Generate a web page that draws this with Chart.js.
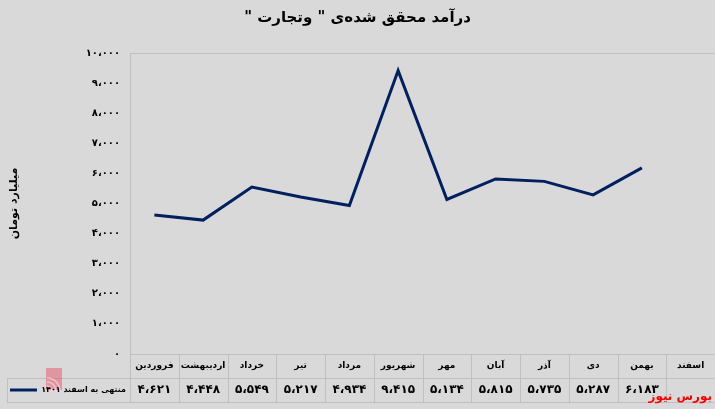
<!DOCTYPE html>
<html>
<head>
<meta charset="utf-8">
<script src="https://cdn.jsdelivr.net/npm/chart.js@4"></script>
<style>
  html, body { margin: 0; padding: 0; background: #d9d9d9; }
  .chart { width: 715px; height: 409px; }
</style>
</head>
<body>
<div class="chart"><canvas dir="rtl"></canvas></div>
<script>
const months = ["فروردین", "اردیبهشت", "خرداد", "تیر", "مرداد", "شهریور", "مهر", "آبان", "آذر", "دی", "بهمن", "اسفند"];
const revenue = [4621, 4448, 5549, 5217, 4934, 9415, 5134, 5815, 5735, 5287, 6183, null];
const seriesName = "منتهی به اسفند ۱۴۰۱";
const chartTitle = "درآمد محقق شده‌ی \" وتجارت \"";
const yTitle = "میلیارد تومان";
const watermark = "بورس نیوز";

const FONT = "'DejaVu Sans', sans-serif";
const lineColor = "#002060";
const gridColor = "#bfbfbf";

// persian digits with arabic comma, like the excel sheet
function fa(n) {
  const s = n >= 1000 ? Math.floor(n / 1000) + "،" + String(n % 1000).padStart(3, "0") : String(n);
  return s.replace(/[0-9]/g, (d) => "۰۱۲۳۴۵۶۷۸۹"[d]);
}

const tablePlugin = {
  id: "dataTable",
  afterDraw(chart) {
    const ctx = chart.ctx;
    const area = chart.chartArea;
    const x = chart.scales.x;
    const rowH = 24;
    const top = area.bottom;
    const mid = top + rowH;
    const bottom = mid + rowH;
    const tableLeft = 7;
    const step = (area.right - area.left) / months.length;

    ctx.save();
    ctx.strokeStyle = gridColor;
    ctx.lineWidth = 1;
    ctx.beginPath();
    // plot frame
    ctx.moveTo(area.left + 0.5, area.top + 0.5);
    ctx.lineTo(area.right, area.top + 0.5);
    ctx.moveTo(area.left + 0.5, area.top);
    ctx.lineTo(area.left + 0.5, bottom);
    // table rows
    ctx.moveTo(area.left, top + 0.5);
    ctx.lineTo(area.right, top + 0.5);
    ctx.moveTo(tableLeft, mid + 0.5);
    ctx.lineTo(area.right, mid + 0.5);
    ctx.moveTo(tableLeft, bottom + 0.5);
    ctx.lineTo(area.right, bottom + 0.5);
    ctx.moveTo(tableLeft + 0.5, mid);
    ctx.lineTo(tableLeft + 0.5, bottom);
    for (let i = 1; i <= months.length; i++) {
      const bx = Math.round(area.left + step * i) + 0.5;
      ctx.moveTo(bx, top);
      ctx.lineTo(bx, bottom);
    }
    ctx.stroke();

    ctx.fillStyle = "#000";
    ctx.textAlign = "center";
    ctx.textBaseline = "middle";
    months.forEach((m, i) => {
      const cx = x.getPixelForValue(i);
      ctx.font = "bold 9px " + FONT;
      ctx.fillText(m, cx, top + rowH / 2);
      ctx.font = "bold 12px " + FONT;
      if (revenue[i] != null) ctx.fillText(fa(revenue[i]), cx, mid + rowH / 2);
    });

    // watermark logo, faint
    ctx.globalAlpha = 0.45;
    ctx.fillStyle = "#e8425a";
    ctx.fillRect(46, 368, 16, 22);
    ctx.strokeStyle = "#ffffff";
    ctx.lineWidth = 1.5;
    for (let r = 5; r <= 13; r += 4) {
      ctx.beginPath();
      ctx.arc(47, 391, r, -Math.PI / 2, 0);
      ctx.stroke();
    }
    ctx.globalAlpha = 1;

    // legend key
    ctx.fillStyle = "#000";
    ctx.font = "bold 8px " + FONT;
    ctx.textAlign = "right";
    ctx.fillText(seriesName, area.left - 4, mid + rowH / 2);
    ctx.strokeStyle = lineColor;
    ctx.lineWidth = 3;
    ctx.beginPath();
    ctx.moveTo(10, mid + rowH / 2);
    ctx.lineTo(37, mid + rowH / 2);
    ctx.stroke();

    ctx.fillStyle = "#ff0000";
    ctx.font = "bold 12px " + FONT;
    ctx.textAlign = "right";
    ctx.fillText(watermark, 712, mid + rowH / 2 + 7);
    ctx.restore();
  },
};

Chart.defaults.font.family = FONT;
Chart.defaults.color = "#000";

new Chart(document.querySelector(".chart canvas"), {
  type: "line",
  data: {
    labels: months,
    datasets: [
      {
        label: seriesName,
        data: revenue,
        borderColor: lineColor,
        borderWidth: 3,
        pointRadius: 0,
        tension: 0,
        fill: false,
      },
    ],
  },
  options: {
    responsive: true,
    maintainAspectRatio: false,
    animation: false,
    layout: { padding: { left: 0, right: 0, top: 0, bottom: 7 } },
    plugins: {
      legend: { display: false },
      tooltip: { enabled: false },
      title: {
        display: true,
        text: chartTitle,
        font: { size: 15, weight: "bold" },
        padding: { top: 9, bottom: 26 },
      },
    },
    scales: {
      x: {
        offset: true,
        grid: { display: false },
        border: { display: false },
        ticks: { display: false },
        afterFit: (s) => { s.height = 48; },
      },
      y: {
        min: 0,
        max: 10000,
        grid: { display: false, drawTicks: false },
        border: { display: false },
        ticks: {
          stepSize: 1000,
          padding: 10,
          font: { size: 10, weight: "bold" },
          callback: (v) => fa(v),
        },
        title: {
          display: true,
          text: yTitle,
          font: { size: 11, weight: "bold" },
          padding: { top: 8, bottom: 0 },
        },
        afterFit: (s) => { s.width = 130; },
      },
    },
  },
  plugins: [tablePlugin],
});
</script>
</body>
</html>
